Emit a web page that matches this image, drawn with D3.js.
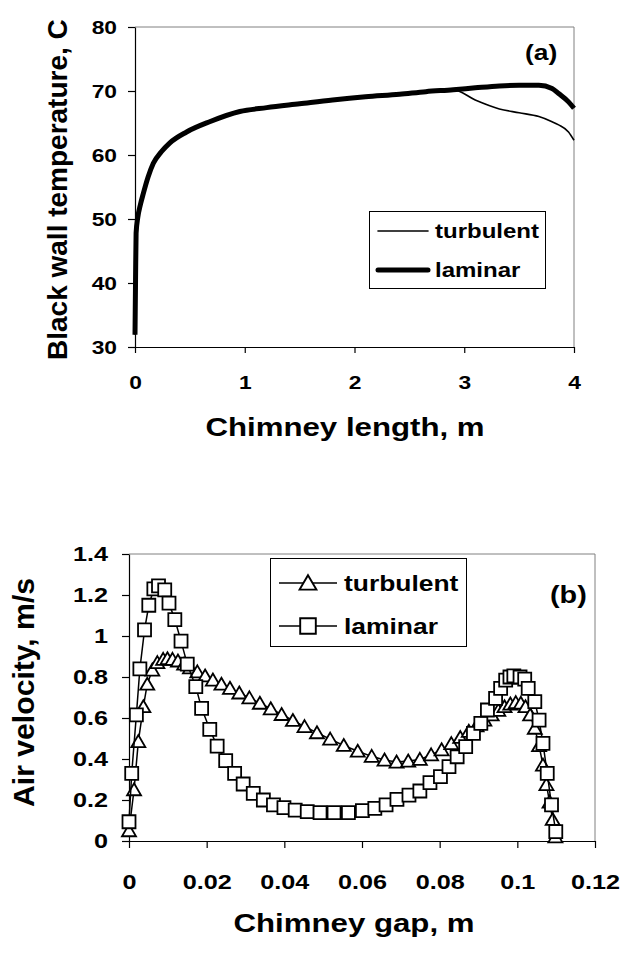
<!DOCTYPE html>
<html>
<head>
<meta charset="utf-8">
<script src="https://cdn.jsdelivr.net/npm/d3@7"></script>
<style>
  body { margin: 0; background: #fff; }
  svg { display: block; }
  text { font-family: "Liberation Sans", Arial, sans-serif; font-weight: bold; fill: #000; }
</style>
</head>
<body>
<script>
// ---- panel (a): wall temperature along the chimney
const lenX = [0, 0.005, 0.01, 0.025, 0.05, 0.076, 0.12, 0.167, 0.24, 0.318, 0.47, 0.68, 0.955, 1.2, 1.5, 1.8, 2.1, 2.41, 2.65, 2.9, 3.1, 3.32, 3.5, 3.68, 3.8, 3.86, 3.95, 4.0];
const laminarT = [31.9, 40.5, 47.8, 50.2, 52.3, 54, 56.6, 58.7, 60.5, 61.9, 63.6, 65.2, 66.8, 67.4, 68.0, 68.6, 69.1, 69.5, 69.9, 70.2, 70.5, 70.8, 70.9, 70.9, 70.4, 69.6, 68.3, 67.3];
const turbulentT = [31.9, 40.5, 47.8, 50.2, 52.3, 54, 56.6, 58.7, 60.5, 61.9, 63.6, 65.2, 66.8, 67.4, 68.0, 68.6, 69.1, 69.5, 69.9, 70.2, 68.6, 67.2, 66.6, 66.0, 65.2, 64.7, 63.6, 62.3];
const lenTicks = [0, 1, 2, 3, 4];
const tempTicks = [30, 40, 50, 60, 70, 80];

// ---- panel (b): air velocity across the gap
const turbX = [0, 0.0013, 0.0024, 0.0037, 0.0047, 0.006, 0.0073, 0.0088, 0.0099, 0.0112, 0.0126, 0.0142, 0.0157, 0.0176, 0.0196, 0.0216, 0.0238, 0.026, 0.0284, 0.031, 0.0337, 0.0365, 0.0393, 0.0422, 0.0452, 0.0484, 0.0518, 0.0553, 0.0589, 0.0625, 0.0658, 0.0689, 0.0719, 0.0749, 0.0778, 0.0805, 0.083, 0.0853, 0.0875, 0.0895, 0.0915, 0.0934, 0.0951, 0.0967, 0.0982, 0.0996, 0.1009, 0.1021, 0.1033, 0.1045, 0.1056, 0.1066, 0.1075, 0.1083, 0.1091, 0.1098];
const turbV = [0.05, 0.25, 0.485, 0.655, 0.765, 0.834, 0.87, 0.886, 0.889, 0.886, 0.878, 0.863, 0.845, 0.825, 0.805, 0.785, 0.765, 0.745, 0.722, 0.698, 0.672, 0.645, 0.617, 0.588, 0.558, 0.528, 0.497, 0.466, 0.438, 0.413, 0.395, 0.385, 0.39, 0.398, 0.42, 0.445, 0.475, 0.505, 0.535, 0.562, 0.59, 0.615, 0.637, 0.655, 0.668, 0.675, 0.672, 0.655, 0.615, 0.55, 0.465, 0.37, 0.275, 0.19, 0.105, 0.02];
const lamX = [0, 0.0007, 0.0019, 0.0028, 0.004, 0.0051, 0.0064, 0.0076, 0.0092, 0.0103, 0.0118, 0.0134, 0.015, 0.0172, 0.0187, 0.0208, 0.0227, 0.0249, 0.0272, 0.0294, 0.032, 0.0346, 0.0372, 0.0399, 0.0428, 0.0459, 0.0492, 0.0528, 0.0565, 0.0601, 0.0633, 0.0662, 0.069, 0.0721, 0.0749, 0.0775, 0.0802, 0.0824, 0.0845, 0.0867, 0.0887, 0.0906, 0.0923, 0.0944, 0.0957, 0.097, 0.0981, 0.0991, 0.1007, 0.1019, 0.1028, 0.1045, 0.1056, 0.1066, 0.1077, 0.1088, 0.1099];
const lamV = [0.094, 0.33, 0.615, 0.84, 1.03, 1.15, 1.23, 1.245, 1.225, 1.16, 1.08, 0.975, 0.863, 0.753, 0.647, 0.545, 0.463, 0.392, 0.33, 0.278, 0.232, 0.2, 0.176, 0.163, 0.151, 0.143, 0.138, 0.138, 0.138, 0.148, 0.159, 0.176, 0.203, 0.224, 0.244, 0.285, 0.314, 0.363, 0.411, 0.46, 0.525, 0.574, 0.639, 0.696, 0.745, 0.785, 0.80, 0.805, 0.80, 0.79, 0.745, 0.68, 0.59, 0.476, 0.33, 0.176, 0.046];
const gapTicks = [0, 0.02, 0.04, 0.06, 0.08, 0.1, 0.12];
const velTicks = [0, 0.2, 0.4, 0.6, 0.8, 1, 1.2, 1.4];

const W = 639, H = 956;
const textStretch = 1.2;

const svg = d3.select('body').append('svg').attr('width', W).attr('height', H);

// the source picture has its lettering drawn wide, so widen each text by k
const stretch = (sel, k) => sel.each(function () {
  const w = this.getComputedTextLength();
  this.setAttribute('textLength', w * k);
  this.setAttribute('lengthAdjust', 'spacingAndGlyphs');
});

const frame = (g, x, y) => {
  const [x0, x1] = x.range(), [y0, y1] = y.range();
  g.append('path')
    .attr('d', `M${x0},${y1} H${x1} V${y0}`)
    .attr('fill', 'none').attr('stroke', '#808080').attr('stroke-width', 1);
};

const styleAxis = (g, fs) => {
  g.select('.domain').attr('stroke', '#000').attr('stroke-width', 1.2);
  g.selectAll('.tick line').attr('stroke', '#000').attr('stroke-width', 1.2);
  g.selectAll('text').attr('font-size', fs).attr('font-family', null).attr('fill', '#000');
  stretch(g.selectAll('text'), textStretch);
};

// ================= (a) =================
const xA = d3.scaleLinear().domain([0, 4]).range([135, 574]);
const yA = d3.scaleLinear().domain([30, 80]).range([347, 27]);
const gA = svg.append('g');

frame(gA, xA, yA);

gA.append('g').attr('transform', `translate(0,${yA(30)})`)
  .call(d3.axisBottom(xA).tickValues(lenTicks).tickFormat(d => String(d)).tickSize(6).tickSizeOuter(0).tickPadding(23))
  .call(g => styleAxis(g, 19));
gA.append('g').attr('transform', `translate(${xA(0)},0)`)
  .call(d3.axisLeft(yA).tickValues(tempTicks).tickFormat(d => String(d)).tickSize(7).tickSizeOuter(0).tickPadding(11))
  .call(g => styleAxis(g, 19));

const lineA = d3.line().x(d => xA(d[0])).y(d => yA(d[1])).curve(d3.curveMonotoneX);
gA.append('path').datum(lenX.map((d, i) => [d, turbulentT[i]]))
  .attr('d', lineA).attr('fill', 'none').attr('stroke', '#000').attr('stroke-width', 1.6);
gA.append('path').datum(lenX.map((d, i) => [d, laminarT[i]]))
  .attr('d', lineA).attr('fill', 'none').attr('stroke', '#000').attr('stroke-width', 5)
  .attr('stroke-linejoin', 'round');

// legend (a)
const legA = gA.append('g');
legA.append('rect').attr('x', 369.5).attr('y', 211.5).attr('width', 176).attr('height', 77)
  .attr('fill', '#fff').attr('stroke', '#000').attr('stroke-width', 1);
[{ name: 'turbulent', w: 1.6, y: 231 }, { name: 'laminar', w: 5, y: 270 }].forEach(d => {
  legA.append('line').attr('x1', 378).attr('x2', 428).attr('y1', d.y).attr('y2', d.y)
    .attr('stroke', '#000').attr('stroke-width', d.w).attr('stroke-linecap', 'round');
  legA.append('text').attr('x', 435).attr('y', d.y + 7).attr('font-size', 20).text(d.name)
    .call(s => stretch(s, textStretch));
});

gA.append('text').attr('x', 525).attr('y', 60).attr('font-size', 22).text('(a)')
  .call(s => stretch(s, textStretch));

gA.append('text').attr('x', 345).attr('y', 436).attr('font-size', 26)
  .attr('text-anchor', 'middle').text('Chimney length, m')
  .call(s => stretch(s, textStretch));
gA.append('text').attr('transform', 'translate(67,360) rotate(-90)')
  .attr('font-size', 28).text('Black wall temperature, C');

// ================= (b) =================
const xB = d3.scaleLinear().domain([0, 0.12]).range([129, 595]);
const yB = d3.scaleLinear().domain([0, 1.4]).range([841, 554]);
const gB = svg.append('g');

frame(gB, xB, yB);

gB.append('g').attr('transform', `translate(0,${yB(0)})`)
  .call(d3.axisBottom(xB).tickValues(gapTicks).tickFormat(d => String(d)).tickSize(7).tickSizeOuter(0).tickPadding(26))
  .call(g => styleAxis(g, 21));
gB.append('g').attr('transform', `translate(${xB(0)},0)`)
  .call(d3.axisLeft(yB).tickValues(velTicks).tickFormat(d => String(d)).tickSize(7).tickSizeOuter(0).tickPadding(14))
  .call(g => styleAxis(g, 21));

const lineB = d3.line().x(d => xB(d[0])).y(d => yB(d[1]));
const tri = 'M0,-6.5 L7,5.5 L-7,5.5 Z';
const sq = 'M-6.5,-6.5 H6.5 V6.5 H-6.5 Z';

const series = [
  { name: 'turbulent', xs: turbX, vs: turbV, mark: tri },
  { name: 'laminar', xs: lamX, vs: lamV, mark: sq },
];

series.forEach(s => {
  const pts = s.xs.map((d, i) => [d, s.vs[i]]);
  const g = gB.append('g');
  g.append('path').datum(pts).attr('d', lineB)
    .attr('fill', 'none').attr('stroke', '#000').attr('stroke-width', 1.5);
  g.selectAll('.mk').data(pts).join('path').attr('class', 'mk')
    .attr('d', s.mark)
    .attr('transform', d => `translate(${xB(d[0])},${yB(d[1])})`)
    .attr('fill', '#fff').attr('stroke', '#000').attr('stroke-width', 1.8);
});

// legend (b)
const legB = gB.append('g');
legB.append('rect').attr('x', 270.5).attr('y', 558.5).attr('width', 196).attr('height', 88)
  .attr('fill', '#fff').attr('stroke', '#000').attr('stroke-width', 1);
series.forEach((s, i) => {
  const y = 583 + i * 43;
  legB.append('line').attr('x1', 279).attr('x2', 337).attr('y1', y).attr('y2', y)
    .attr('stroke', '#000').attr('stroke-width', 1.5);
  legB.append('path').attr('d', s.mark).attr('transform', `translate(308,${y}) scale(1.2)`)
    .attr('fill', '#fff').attr('stroke', '#000').attr('stroke-width', 1.6);
  legB.append('text').attr('x', 344).attr('y', y + 8).attr('font-size', 22).text(s.name)
    .call(t => stretch(t, textStretch));
});

gB.append('text').attr('x', 550).attr('y', 603).attr('font-size', 24).text('(b)')
  .call(s => stretch(s, textStretch));

gB.append('text').attr('x', 354).attr('y', 932).attr('font-size', 26)
  .attr('text-anchor', 'middle').text('Chimney gap, m')
  .call(s => stretch(s, textStretch));
gB.append('text').attr('transform', 'translate(34,807) rotate(-90)')
  .attr('font-size', 29).text('Air velocity, m/s')
  .call(s => stretch(s, 1.04));
</script>
</body>
</html>
